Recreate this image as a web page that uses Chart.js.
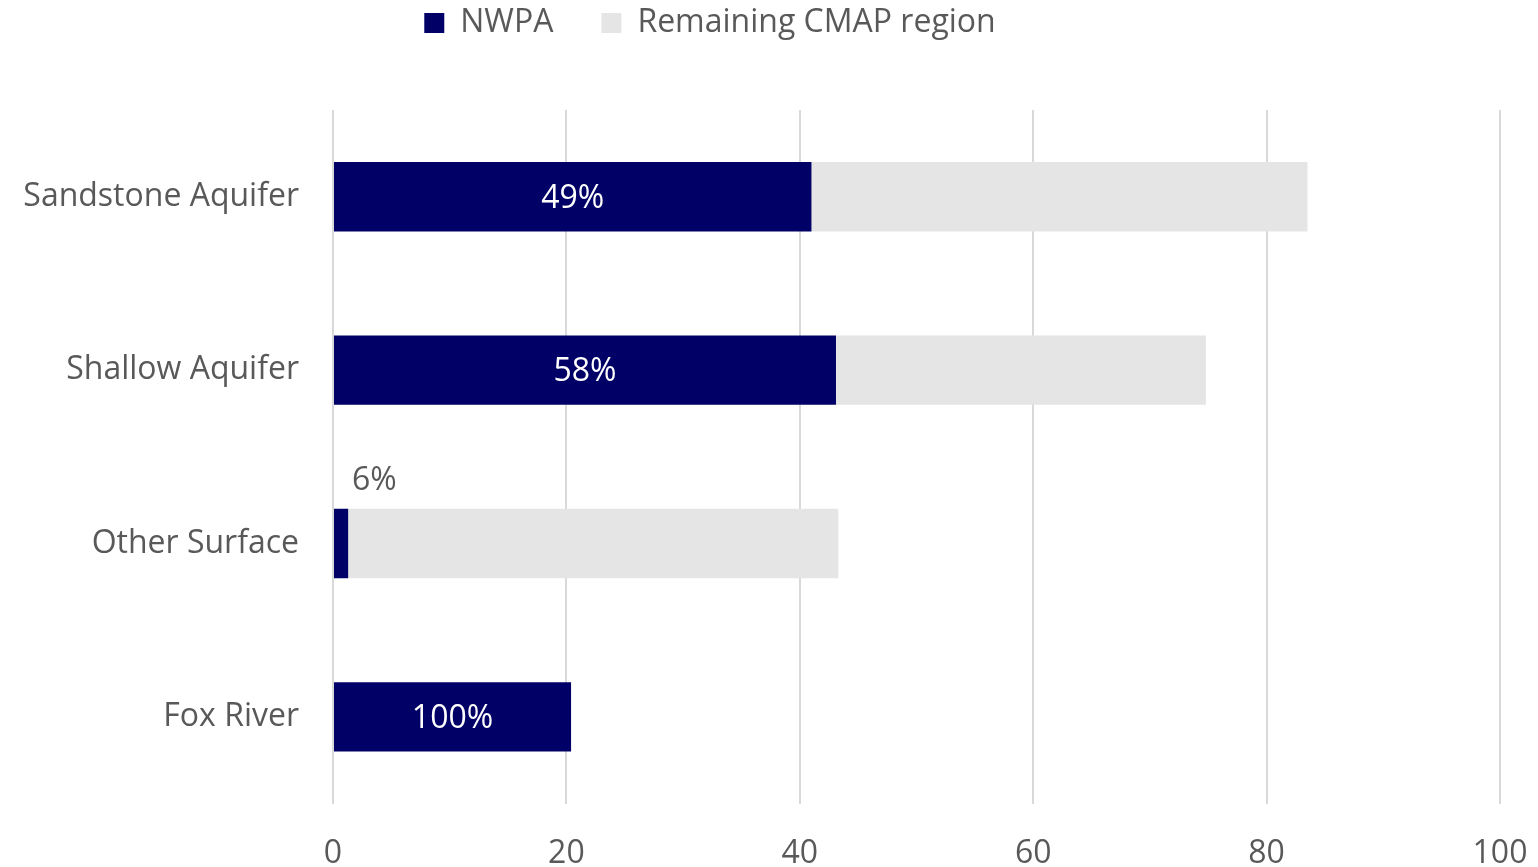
<!DOCTYPE html>
<html>
<head>
<meta charset="utf-8">
<script src="https://cdn.jsdelivr.net/npm/chart.js@4"></script>
<style>
  html, body { margin: 0; padding: 0; background: #fff; }
  #wrap { width: 1538px; height: 867px; }
</style>
</head>
<body>
<div id="wrap"><canvas id="chart"></canvas></div>
<script>
// water withdrawals by source, NWPA vs rest of the CMAP region
const categories = ["Sandstone Aquifer", "Shallow Aquifer", "Other Surface", "Fox River"];
const nwpa = [41.0, 43.1, 1.3, 20.4];
const remaining = [42.5, 31.7, 42.0, 0];
const shareLabels = ["49%", "58%", "6%", "100%"];
const xTicks = [0, 20, 40, 60, 80, 100];

const NAVY = "#000066";
const LIGHT = "#e5e5e5";
const TEXT = "#595959";
const FONT = "'Open Sans', 'Noto Sans', sans-serif";

// share labels: white inside the navy bar, grey above it when the bar is too thin
const shareLabelPlugin = {
  id: "shareLabels",
  afterDatasetsDraw(chart) {
    const ctx = chart.ctx;
    const meta = chart.getDatasetMeta(0);
    ctx.save();
    ctx.font = "32px " + FONT;
    ctx.textBaseline = "middle";
    meta.data.forEach((bar, i) => {
      const w = bar.x - bar.base;
      if (w > 80) {
        ctx.fillStyle = "#ffffff";
        ctx.textAlign = "center";
        ctx.fillText(shareLabels[i], (bar.x + bar.base) / 2, bar.y + 2);
      } else {
        ctx.fillStyle = TEXT;
        ctx.textAlign = "left";
        ctx.fillText(shareLabels[i], bar.base + 18, bar.y - bar.height / 2 - 28);
      }
    });
    ctx.restore();
  },
};

// legend sits higher and a bit left of centre in the original, with a tall gap under it
const legendPlacement = {
  id: "legendPlacement",
  beforeLayout(chart) {
    const lg = chart.legend;
    if (!lg || lg._patched) return;
    lg._patched = true;
    const fit = lg.fit.bind(lg);
    lg.fit = function () { fit(); this.height = 110; };
    const draw = lg.draw.bind(lg);
    lg.draw = function (area) {
      const c = this.ctx;
      c.save();
      c.translate(-62, -41);
      draw(area);
      c.restore();
    };
  },
};

new Chart(document.getElementById("chart"), {
  type: "bar",
  data: {
    labels: categories,
    datasets: [
      { label: "NWPA", data: nwpa, backgroundColor: NAVY, borderWidth: 0 },
      { label: "Remaining CMAP region", data: remaining, backgroundColor: LIGHT, borderWidth: 0 },
    ],
  },
  options: {
    indexAxis: "y",
    responsive: true,
    maintainAspectRatio: false,
    animation: false,
    devicePixelRatio: 1,
    categoryPercentage: 1,
    barPercentage: 0.4,
    layout: { padding: { left: 18, right: 12, top: 0, bottom: -37 } },
    scales: {
      x: {
        stacked: true,
        min: 0,
        max: 100,
        afterBuildTicks: (scale) => { scale.ticks = xTicks.map((v) => ({ value: v })); },
        // the "100" label may hang past the plot edge, as in the original
        afterFit: (scale) => { scale.paddingRight = 38; scale.paddingLeft = 0; },
        grid: { color: "#d9d9d9", lineWidth: 2, drawTicks: false },
        border: { display: false },
        ticks: { color: TEXT, font: { family: FONT, size: 32 }, padding: 31 },
      },
      y: {
        stacked: true,
        grid: { display: false },
        border: { display: false },
        ticks: { color: TEXT, font: { family: FONT, size: 32 }, padding: 26 },
        afterFit: (scale) => { scale.width = 315; },
      },
    },
    plugins: {
      legend: {
        position: "top",
        labels: {
          color: TEXT,
          font: { family: FONT, size: 32 },
          boxWidth: 20,
          boxHeight: 20,
          padding: 48,
          useBorderRadius: false,
        },
      },
      tooltip: { enabled: false },
    },
  },
  plugins: [shareLabelPlugin, legendPlacement],
});
</script>
</body>
</html>
